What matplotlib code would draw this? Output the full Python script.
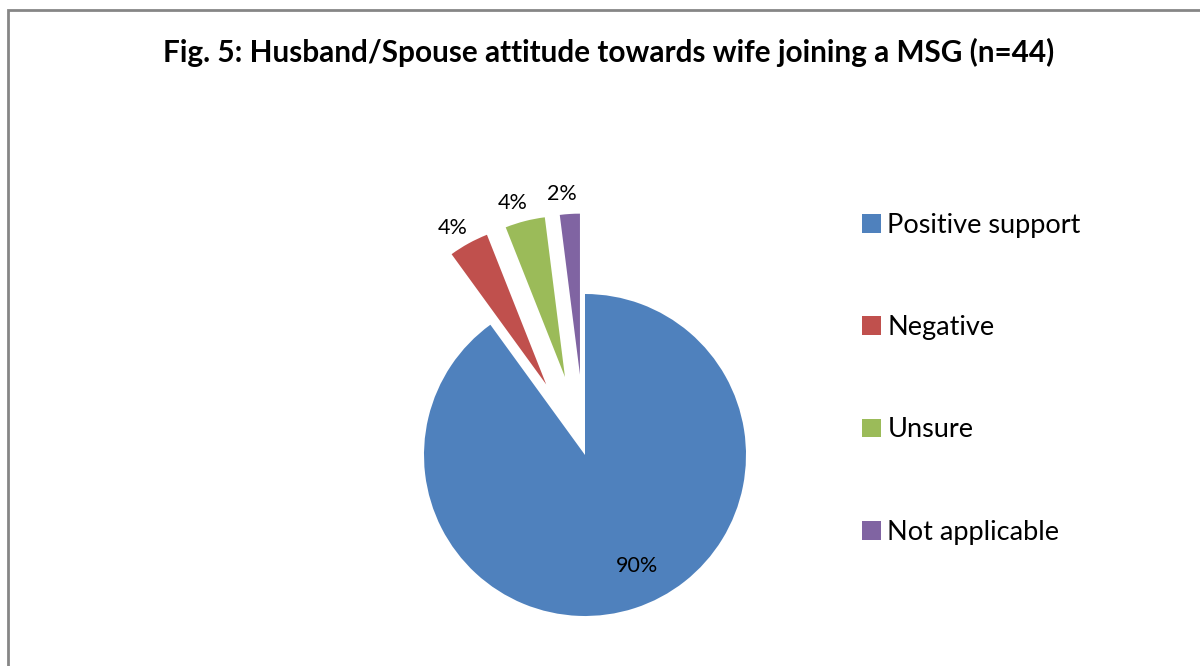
import numpy as np
import matplotlib.pyplot as plt
from matplotlib.patches import Rectangle

plt.rcParams['font.family'] = ['Lato', 'DejaVu Sans']

categories = ['Positive support', 'Negative', 'Unsure', 'Not applicable']
shares = [90, 4, 4, 2]
colors = ['#4F81BD', '#C0504D', '#9BBB59', '#8064A2']
explode = [0, 0.5, 0.5, 0.5]

fig = plt.figure(figsize=(12, 6.66), dpi=100)

# outer chart frame (runs off the right and bottom edges like the source)
fig.patches.append(Rectangle((8 / 1200, -0.05), 1.1, 1 - 10 / 666 + 0.05,
                             transform=fig.transFigure, fill=False,
                             edgecolor='#868686', linewidth=2))

fig.text(0.507, 1 - 52 / 666, 'Fig. 5: Husband/Spouse attitude towards wife joining a MSG (n=44)',
         ha='center', va='center', fontsize=21.4, fontweight='bold')

# square axes centered on the pie, 600x600 px
R = 161.0
half = 300.0
cx, cy = 585.0, 455.0
ax = fig.add_axes([(cx - half) / 1200, (666 - cy - half) / 666, 2 * half / 1200, 2 * half / 666])

wedges, _ = ax.pie(shares, colors=colors, explode=explode, startangle=90,
                   counterclock=False, radius=1)

lim = half / R
ax.set_xlim(-lim, lim)
ax.set_ylim(-lim, lim)
ax.set_aspect('equal')
ax.axis('off')

for w, val, ex in zip(wedges, shares, explode):
    mid = np.deg2rad((w.theta1 + w.theta2) / 2)
    if ex == 0:
        # inside label sits a little right of the mid-angle, as in the source
        mid += np.deg2rad(7)
        dist = 0.76
    else:
        mid += np.deg2rad(1.5)
        dist = ex + 1.13
    ax.text(dist * np.cos(mid), dist * np.sin(mid), f'{val}%',
            ha='center', va='center', fontsize=15.5, color='black')

handles = [Rectangle((0, 0), 1, 1, facecolor=c) for c in colors]
fig.legend(handles, categories, loc='upper left',
           bbox_to_anchor=(848 / 1200, 1 - 199 / 666), frameon=False,
           fontsize=19.5, handlelength=0.7, handleheight=0.7,
           handletextpad=0.25, labelspacing=2.86, borderpad=0)

fig.savefig('out.png', dpi=100)
